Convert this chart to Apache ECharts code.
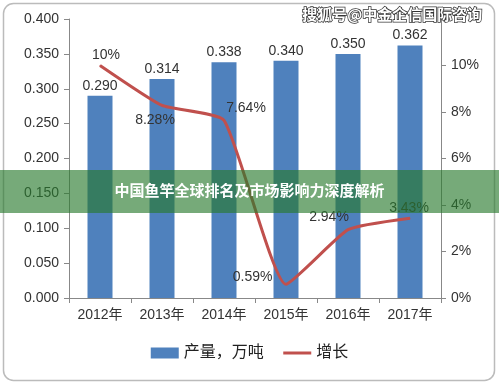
<!DOCTYPE html>
<html><head><meta charset="utf-8">
<script src="https://cdn.jsdelivr.net/npm/echarts@6/dist/echarts.min.js"></script>
<style>html,body{margin:0;padding:0;background:#fff}#c{width:499px;height:384px}</style>
</head><body><div id="c"></div>
<script>
const categories = ['2012年','2013年','2014年','2015年','2016年','2017年'];
const outputValues = [0.290, 0.314, 0.338, 0.340, 0.350, 0.362];
const growthValues = [10, 8.28, 7.64, 0.59, 2.94, 3.43];
const growthLabels = ['10%','8.28%','7.64%','0.59%','2.94%','3.43%'];
const growthLabelPlacement = [
  {position:'top', offset:[6,2]},
  {position:'bottom', offset:[-7,2]},
  {position:'top', offset:[22,0]},
  {position:'left', offset:[-8,-7]},
  {position:'top', offset:[-19,0]},
  {position:'top', offset:[-1,2]}
];
const leftTicks = {min:0, max:0.4, interval:0.05};
const rightTicks = {min:0, max:12, interval:2};

const font = '"Liberation Sans","Noto Sans CJK SC",sans-serif';
const chart = echarts.init(document.getElementById('c'));
chart.setOption({
  backgroundColor:'#fff',
  animation:false,
  grid:{left:69, right:58, top:19, bottom:86},
  legend:{
    bottom:18, left:'center', itemWidth:28, itemHeight:11, itemGap:18,
    textStyle:{fontSize:16, color:'#222', fontFamily:font},
    data:[{name:'产量，万吨', icon:'rect'},{name:'增长', itemStyle:{opacity:0}, lineStyle:{width:3, color:'#C0504D'}}]
  },
  xAxis:{
    type:'category', data:categories,
    axisLine:{lineStyle:{color:'#888'}},
    axisTick:{show:true, alignWithLabel:false, length:5, lineStyle:{color:'#888'}},
    axisLabel:{fontSize:14, color:'#333', margin:10, fontFamily:font}
  },
  yAxis:[{
    type:'value', min:leftTicks.min, max:leftTicks.max, interval:leftTicks.interval,
    axisLine:{show:true, lineStyle:{color:'#888'}},
    axisTick:{show:true, length:5, lineStyle:{color:'#888'}},
    splitLine:{show:false},
    axisLabel:{fontSize:14, color:'#333', margin:10, fontFamily:font, formatter:v=>v.toFixed(3)}
  },{
    type:'value', min:rightTicks.min, max:rightTicks.max, interval:rightTicks.interval,
    position:'right',
    axisLine:{show:true, lineStyle:{color:'#888'}},
    axisTick:{show:true, length:5, lineStyle:{color:'#888'}},
    splitLine:{show:false},
    axisLabel:{fontSize:14, color:'#333', margin:10, fontFamily:font, formatter:v=> v>=12 ? '' : v+'%'}
  }],
  series:[{
    name:'产量，万吨', type:'bar', data:outputValues, barWidth:25,
    itemStyle:{color:'#4F81BD'},
    label:{show:true, position:'top', distance:3, fontSize:14, color:'#333', fontFamily:font, formatter:p=>p.value.toFixed(3)}
  },{
    name:'增长', type:'line', yAxisIndex:1, smooth:0.15,
    symbol:'circle', symbolSize:1, showSymbol:true,
    lineStyle:{color:'#C0504D', width:3},
    itemStyle:{color:'#C0504D'},
    data: growthValues.map((v,i)=>({value:v, label:Object.assign({show:true, fontSize:14, color:'#333', fontFamily:font, formatter:growthLabels[i]}, growthLabelPlacement[i])}))
  }],
  graphic:[
    {type:'rect', shape:{x:3.5,y:3.5,width:491,height:377,r:10}, style:{fill:'none', stroke:'#bbb', lineWidth:1.5}, z:-1},
    {type:'rect', shape:{x:0,y:170,width:499,height:43}, style:{fill:'rgba(40,122,45,0.64)'}, z:100},
    {type:'text', left:'center', top:183, style:{text:'中国鱼竿全球排名及市场影响力深度解析', fill:'#fff', font:'bold 15px "Noto Sans CJK SC",sans-serif'}, z:101},
    {type:'text', right:16, top:6, style:{text:'搜狐号@中金企信国际咨询', fill:'#fff', stroke:'#333', lineWidth:1.5, font:'bold 15px "Noto Sans CJK SC",sans-serif'}, z:101}
  ]
});
</script></body></html>
